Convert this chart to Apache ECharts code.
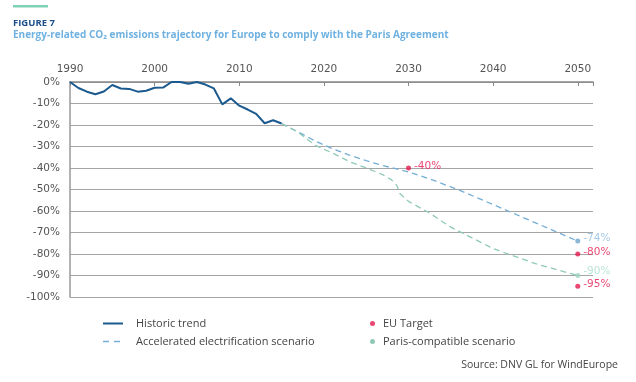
<!DOCTYPE html>
<html><head><meta charset="utf-8">
<script src="https://cdn.jsdelivr.net/npm/echarts@6/dist/echarts.min.js"></script>
<style>html,body{margin:0;padding:0;background:#fff}#c{width:636px;height:382px}</style>
</head><body><div id="c"></div>
<script>
const histYears = [1990,1991,1992,1993,1994,1995,1996,1997,1998,1999,2000,2001,2002,2003,2004,2005,2006,2007,2008,2009,2010,2011,2012,2013,2014,2015];
const histValues = [0,-2.8,-4.5,-5.7,-4.4,-1.4,-3.0,-3.2,-4.5,-4.1,-2.7,-2.6,0,0,-0.8,0,-1.2,-3.0,-10.4,-7.6,-11,-12.8,-14.8,-19.2,-17.8,-19.3];
const elecYears = [2015,2017,2019,2021,2023,2025,2027,2030,2033,2036,2040,2045,2050];
const elecValues = [-19.3,-23.3,-27.5,-31,-34,-36.6,-38.9,-41.8,-45.8,-50.3,-57,-65.5,-74];
const parisYears = [2015,2017,2019,2021,2023,2025,2027,2028,2028.6,2029,2030,2032.5,2035,2040,2045,2050];
const parisValues = [-19.3,-23.5,-29.5,-33,-37,-40,-43.2,-45.5,-48,-52,-55.5,-61,-67.5,-77.5,-84.5,-90];
const targetYears = [2030,2050,2050];
const targetValues = [-40,-80,-95];
const xTickLabels = ['1990','2000','2010','2020','2030','2040','2050'];

const C_HIST = '#1b5a8e', C_ELEC = '#74aed6', C_PARIS = '#90cab5', C_RED = '#e3194d';
const pairs = (xs, ys) => xs.map((x, i) => [x, ys[i]]);
const last = (xs, ys) => [[xs[xs.length - 1], ys[ys.length - 1]]];
const pct = p => p.value[1] + '%';

const chart = echarts.init(document.getElementById('c'));
chart.setOption({
  animation: false,
  backgroundColor: '#fff',
  graphic: [{ type: 'rect', shape: { x: 13, y: 5, width: 35, height: 2.5 }, style: { fill: '#7fd1b3' } }],
  title: [
    { text: 'FIGURE 7', left: 13, top: 18, padding: 0,
      textStyle: { fontFamily: 'Open Sans', fontWeight: 'bold', fontSize: 9.5, color: '#1c4f8a' } },
    { text: 'Energy-related CO₂ emissions trajectory for Europe to comply with the Paris Agreement', left: 13, top: 30, padding: 0,
      textStyle: { fontFamily: 'Open Sans, DejaVu Sans', fontWeight: 'bold', fontSize: 10, color: '#6fb1e0' } },
    { text: 'Source: DNV GL for WindEurope', right: 18, top: 360, padding: 0,
      textStyle: { fontFamily: 'Open Sans', fontWeight: 'normal', fontSize: 10.5, color: '#444' } }
  ],
  legend: [
    { data: [
        { name: 'Historic trend', itemStyle: { opacity: 0 } },
        { name: 'Accelerated electrification scenario', itemStyle: { opacity: 0 }, lineStyle: { type: [6, 5], width: 1.5 } }
      ],
      orient: 'vertical', left: 102, top: 318, padding: 0,
      itemWidth: 20, itemHeight: 12, itemGap: 7, selectedMode: false,
      textStyle: { fontFamily: 'Open Sans', fontSize: 11, color: '#444', padding: [0, 0, 0, 8] } },
    { data: [{ name: 'EU Target', icon: 'circle' }, { name: 'Paris-compatible scenario', icon: 'circle' }], orient: 'vertical', left: 370, top: 318, padding: 0,
      itemWidth: 5, itemHeight: 12, itemGap: 7, selectedMode: false,
      textStyle: { fontFamily: 'Open Sans', fontSize: 11, color: '#444', padding: [0, 0, 0, 3] } }
  ],
  grid: { left: 70, right: 43, top: 82, bottom: 85 },
  xAxis: {
    type: 'value', position: 'top', min: 1990, max: 2051.8, interval: 10,
    axisLine: { lineStyle: { color: '#888', width: 1.5 } },
    axisTick: { inside: true, length: 4, lineStyle: { color: '#888' } },
    axisLabel: { margin: 7, color: '#555', fontFamily: 'DejaVu Sans', fontSize: 10.5,
      formatter: v => xTickLabels.indexOf(String(v)) >= 0 ? String(v) : '' },
    splitLine: { show: false }
  },
  yAxis: {
    type: 'value', min: -100, max: 0, interval: 10,
    axisLine: { show: true, lineStyle: { color: '#999', width: 1.5 } },
    axisTick: { show: false },
    axisLabel: { margin: 10, color: '#555', fontFamily: 'DejaVu Sans', fontSize: 10.5, formatter: v => v + '%' },
    splitLine: { lineStyle: { color: '#a5a5a5', width: 1.2 } }
  },
  series: [
    { name: 'Historic trend', type: 'line', data: pairs(histYears, histValues), symbol: 'none', z: 5,
      lineStyle: { color: C_HIST, width: 2 }, itemStyle: { color: C_HIST } },
    { name: 'Accelerated electrification scenario', type: 'line', data: pairs(elecYears, elecValues), symbol: 'none',
      lineStyle: { color: C_ELEC, width: 1.3, type: [6, 4] }, itemStyle: { color: C_ELEC } },
    { name: 'Paris-compatible scenario', type: 'line', data: pairs(parisYears, parisValues), symbol: 'none',
      lineStyle: { color: C_PARIS, width: 1.3, type: [6, 4] }, itemStyle: { color: C_PARIS } },
    { name: 'elecEnd', type: 'scatter', data: last(elecYears, elecValues), symbolSize: 5, itemStyle: { color: '#6fa6cc' },
      label: { show: true, position: 'right', distance: 3, offset: [0, -3], formatter: pct, color: '#8fbbe0', fontFamily: 'DejaVu Sans', fontSize: 10.5 } },
    { name: 'parisEnd', type: 'scatter', data: last(parisYears, parisValues), symbolSize: 5, itemStyle: { color: '#9ed4c2' },
      label: { show: true, position: 'right', distance: 3, offset: [0, -4], formatter: pct, color: '#a8dccb', fontFamily: 'DejaVu Sans', fontSize: 10.5 } },
    { name: 'EU Target', type: 'scatter', data: pairs(targetYears, targetValues), symbolSize: 5, z: 6, itemStyle: { color: C_RED },
      label: { show: true, position: 'right', distance: 3, offset: [0, -2], formatter: pct, color: C_RED, fontFamily: 'DejaVu Sans', fontSize: 10.5 } }
  ]
});
</script></body></html>
